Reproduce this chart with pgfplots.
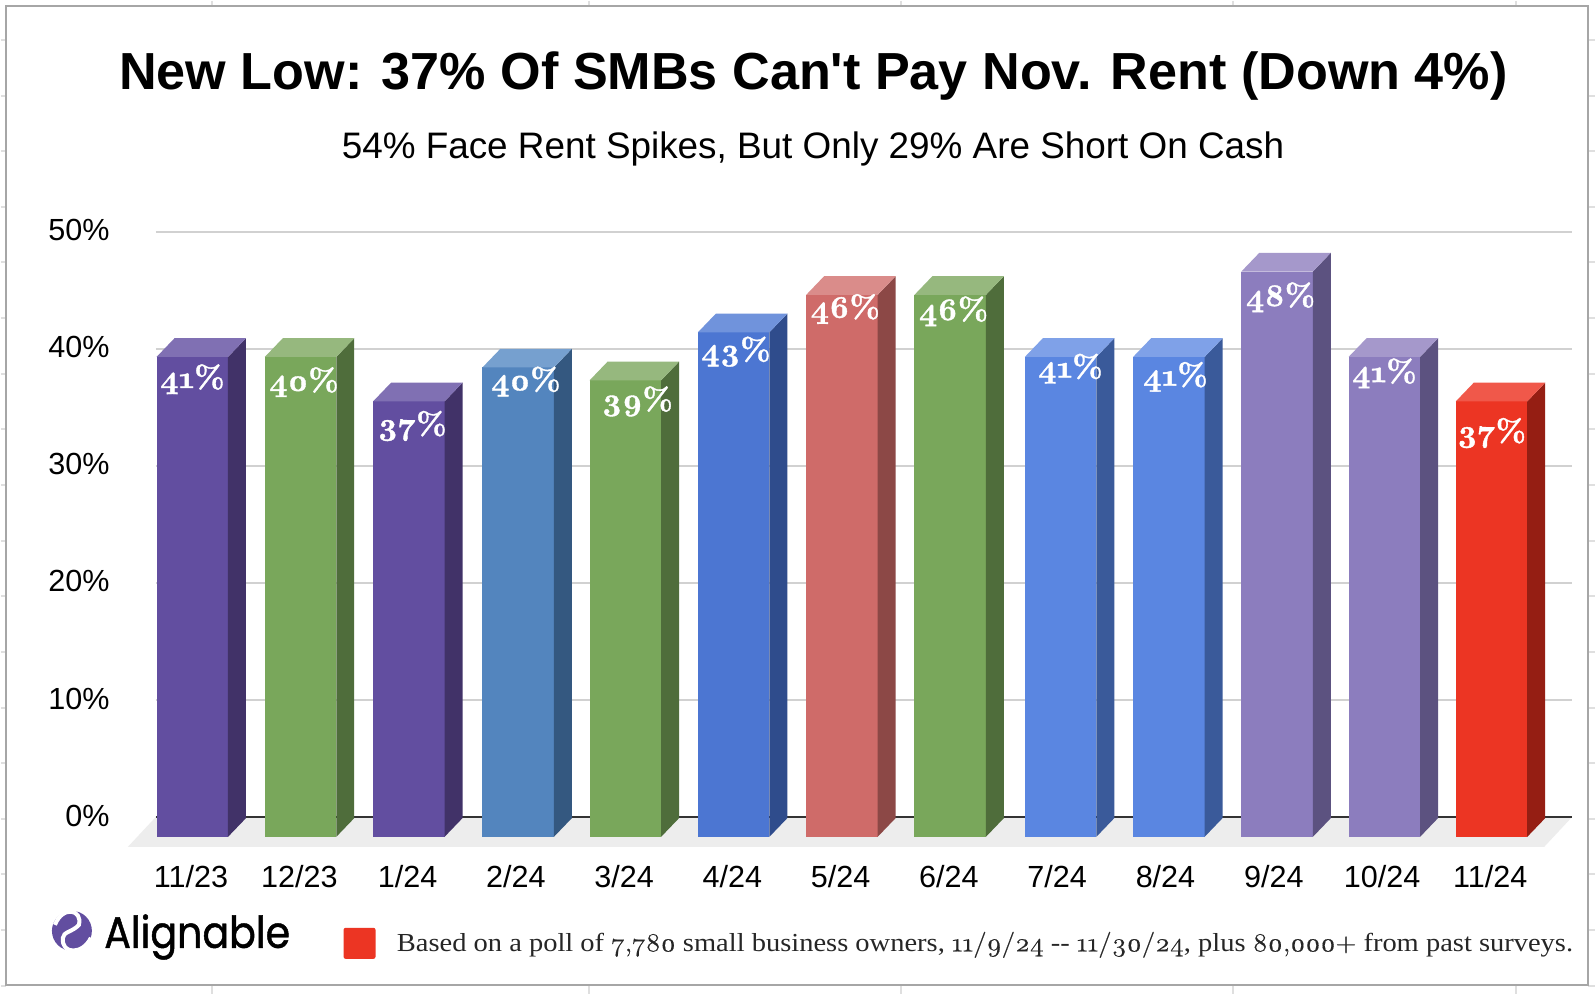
\documentclass[border=0pt]{standalone}
\usepackage{pgfplots}
\pgfplotsset{compat=1.18}
\usepackage{pgfplotstable}
\usepackage{fontspec}
\setmainfont{Liberation Sans}
\newfontfamily\tfont{Liberation Sans}
\newfontfamily\lm[Extension=.otf,Numbers=OldStyle,FakeBold=1.2,FakeStretch=1.0]{lmroman10-bold}
\newfontfamily\lmn[Numbers=OldStyle,FakeBold=0.5,FakeStretch=1.05]{Latin Modern Roman}
\newfontfamily\foot[FakeStretch=1.097]{Liberation Serif}
\newfontfamily\logo[FakeStretch=0.9,FakeBold=1]{Poppins}
\newcommand\os[1]{{\lmn #1}}
\definecolor{pF}{HTML}{624EA0}\definecolor{pT}{HTML}{8070B3}\definecolor{pS}{HTML}{413268}
\definecolor{gF}{HTML}{79A75B}\definecolor{gT}{HTML}{96B87E}\definecolor{gS}{HTML}{4F6D3B}
\definecolor{sF}{HTML}{5385BE}\definecolor{sT}{HTML}{76A0CF}\definecolor{sS}{HTML}{345880}
\definecolor{bF}{HTML}{4C76D2}\definecolor{bT}{HTML}{7093DC}\definecolor{bS}{HTML}{2F4C8C}
\definecolor{rF}{HTML}{CF6B69}\definecolor{rT}{HTML}{DA8C8A}\definecolor{rS}{HTML}{8C4846}
\definecolor{cF}{HTML}{5A86E1}\definecolor{cT}{HTML}{7FA1E8}\definecolor{cS}{HTML}{3A5A9A}
\definecolor{lF}{HTML}{8C7DBE}\definecolor{lT}{HTML}{A598CB}\definecolor{lS}{HTML}{5C5280}
\definecolor{xF}{HTML}{EC3523}\definecolor{xT}{HTML}{F0584A}\definecolor{xS}{HTML}{951E13}
\newcommand\tb[3]{%
  \pgfmathsetmacro\xa{#1-0.33}\pgfmathsetmacro\xb{#1+0.33}\pgfmathsetmacro\xc{#1+0.496}\pgfmathsetmacro\xd{#1-0.164}%
  \pgfmathsetmacro\ya{#2-1.7}\pgfmathsetmacro\yb{#2-0.1}%
  \addplot[draw=none,fill=#3F,forget plot] coordinates {(\xa,-1.7)(\xb,-1.7)(\xb,\ya)(\xa,\ya)} --cycle;
  \addplot[draw=none,fill=#3S,forget plot] coordinates {(\xb,-1.7)(\xc,-0.1)(\xc,\yb)(\xb,\ya)} --cycle;
  \addplot[draw=none,fill=#3T,forget plot] coordinates {(\xa,\ya)(\xb,\ya)(\xc,\yb)(\xd,\yb)} --cycle;
}
\pgfplotstableread{
x y lab
0 37.4 41
1.03 37.15 40
2.03 33.4 37
3.08 37.2 40
4.11 35.5 39
5.02 39.75 43
6.03 43.4 46
7.03 43.2 46
8.11 38.3 41
9.08 37.6 41
10.05 44.4 48
11.01 37.9 41
12 32.8 37
}\labtable
\begin{document}
\begin{tikzpicture}
\begin{scope}[x=0.5pt,y=-0.5pt,shift={(-77.5pt,408.5pt)}]
  \path[fill=white] (0,0) rectangle (1596,994);
  \foreach \k in {0,...,17}{
    \pgfmathsetmacro\yy{39+55.7*\k}
    \draw[line width=1pt,gray!25] (0,\yy) -- (5,\yy);
    \draw[line width=1pt,gray!25] (1589,\yy) -- (1596,\yy);
  }
  \foreach \xx in {211,589,901,1234,1517}{
    \draw[line width=1pt,gray!25] (\xx,0) -- (\xx,5);
    \draw[line width=1pt,gray!25] (\xx,985) -- (\xx,994);
  }
  \draw[line width=0.8pt,black!35] (5,5) rectangle (1589,985);
\end{scope}
\begin{axis}[
  at={(0,0)},anchor=south west,scale only axis,width=709pt,height=293pt,
  xmin=-0.3367,xmax=12.744,ymin=0,ymax=50,clip=false,
  axis line style={draw=none},major tick length=0pt,
  ymajorgrids,grid style={line width=0.8pt,black!18},
  ytick={0,10,20,30,40,50},yticklabels={0\%,10\%,20\%,30\%,40\%,50\%},
  yticklabel style={font=\fontsize{15.3}{15.3}\selectfont,anchor=east,inner sep=0pt,xshift=-23pt,yshift=0.7pt},
  xtick={0,...,12},
  xticklabels={11/23,12/23,1/24,2/24,3/24,4/24,5/24,6/24,7/24,8/24,9/24,10/24,11/24},
  xticklabel style={font=\fontsize{15.3}{15.3}\selectfont,anchor=center,inner sep=0pt,yshift=-30pt,xshift=-0.6pt},
]
\addplot[draw=none,fill=black!7,forget plot] coordinates {(-0.3367,0)(12.744,0)(12.486,-2.56)(-0.595,-2.56)} --cycle;
\addplot[black!80,line width=0.9pt,forget plot] coordinates {(-0.3367,0)(12.744,0)};
\tb{0}{41}{p}
\tb{1}{41}{g}
\tb{2}{37.2}{p}
\tb{3.01}{40.1}{s}
\tb{4}{39}{g}
\tb{5}{43.1}{b}
\tb{6}{46.3}{r}
\tb{7}{46.3}{g}
\tb{8.02}{41}{c}
\tb{9.02}{41}{c}
\tb{10.02}{48.3}{l}
\tb{11.01}{41}{l}
\tb{12}{37.2}{x}
\addplot[draw=none,mark=none,point meta=explicit symbolic,
  nodes near coords={\lm\pgfplotspointmeta\%},
  every node near coord/.style={anchor=center,inner sep=0pt,text=white,font=\fontsize{15.8}{15.8}\selectfont}]
  table[x=x,y=y,meta=lab] {\labtable};
\end{axis}
\begin{scope}[x=0.5pt,y=-0.5pt,shift={(-77.5pt,408.5pt)}]
  \node[anchor=center,inner sep=0pt] at (813.5,75) {\tfont\fontsize{26.1}{26.1}\selectfont\bfseries New Low: 37\% Of SMBs Can't Pay Nov. Rent (Down 4\%)};
  \node[anchor=center,inner sep=0pt] at (813,148) {\fontsize{18.45}{18.45}\selectfont 54\% Face Rent Spikes, But Only 29\% Are Short On Cash};
  \fill[xF,rounded corners=1pt] (343,928) rectangle (375,959);
  \node[anchor=west,inner sep=0pt,text=black!85] at (396,945) {\foot\fontsize{13}{13}\selectfont Based on a poll of \os{7,780} small business owners, \os{11/9/24} -- \os{11/30/24}, plus \os{80,000+} from past surveys.};
  \fill[pF] (71,931) circle (20);
  \draw[white,line width=2pt] (54,925) .. controls (62,905) and (82,910) .. (78,925) .. controls (72,932) and (62,932) .. (62,938) .. controls (60,955) and (82,955) .. (90,938);
  \node[anchor=base west,inner sep=0pt] at (103,948) {\logo\fontsize{22}{22}\selectfont Alignable};
\end{scope}
\end{tikzpicture}
\end{document}
